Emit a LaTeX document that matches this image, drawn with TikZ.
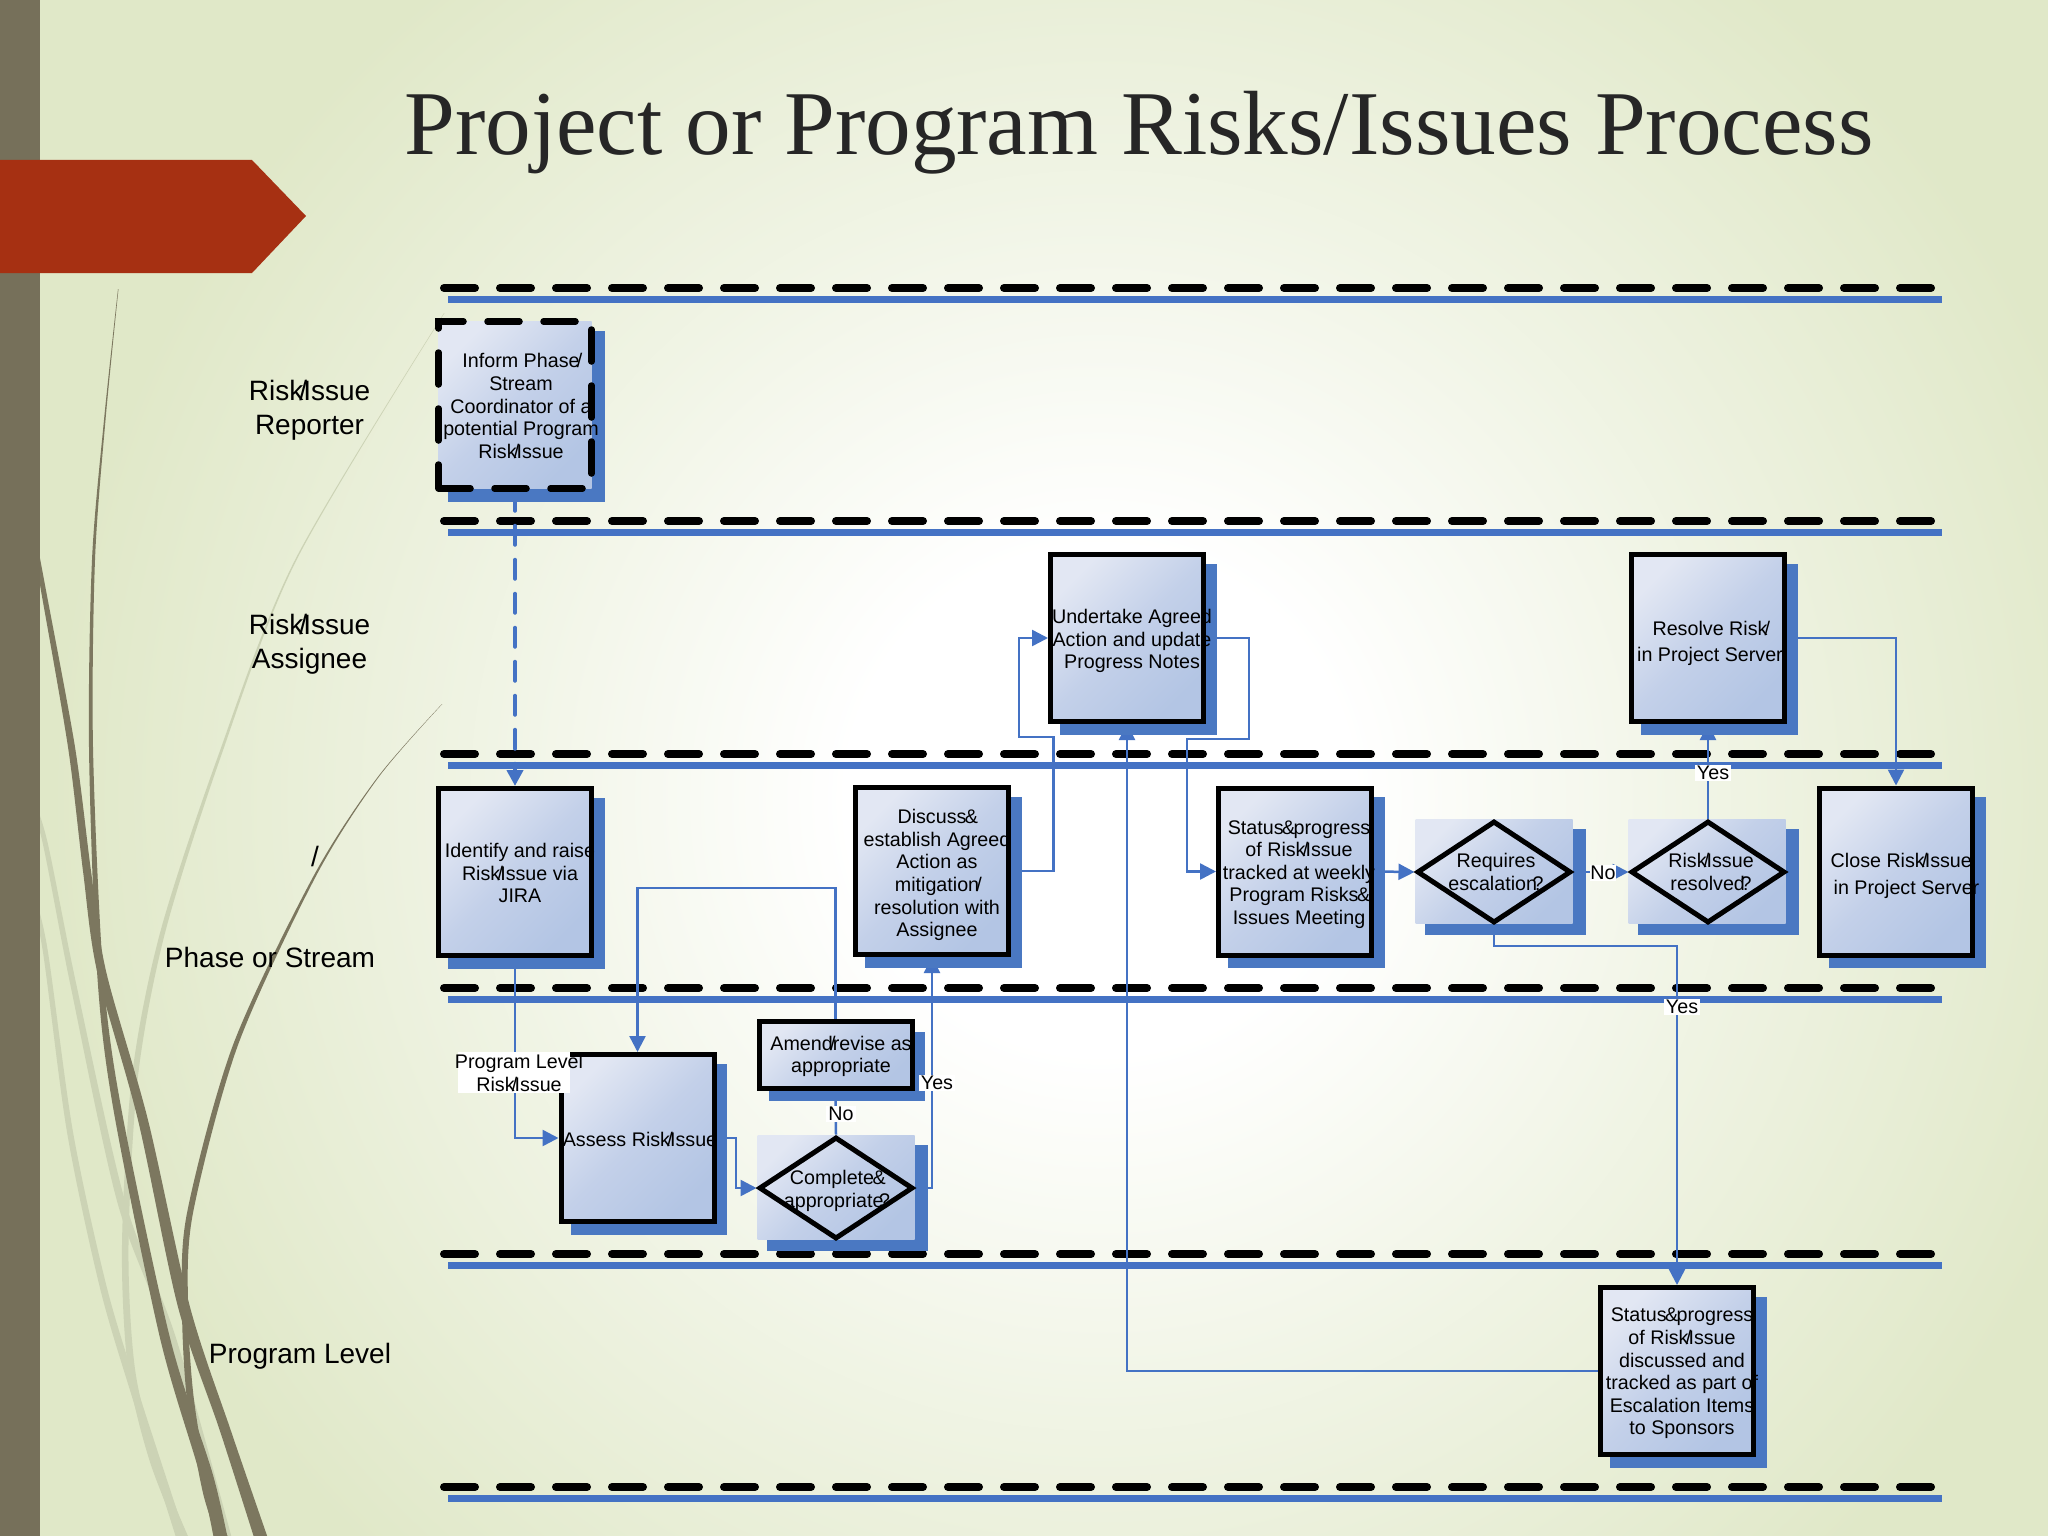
\documentclass[tikz,border=0pt]{standalone}
\usepackage{fontspec}
\setmainfont{Liberation Sans}
\newfontfamily\titlefont{Liberation Serif}
\usetikzlibrary{arrows.meta,shapes.geometric,shadows}
\definecolor{bandbrown}{HTML}{76705A}
\definecolor{bladedark}{HTML}{7C775F}
\definecolor{bladelight}{HTML}{CCD3B5}
\definecolor{pagegreen}{HTML}{E0E8C8}
\definecolor{arrowred}{HTML}{A63012}
\definecolor{laneblue}{HTML}{4472C4}
\definecolor{shadowblue}{HTML}{4A78C2}
\definecolor{boxlight}{HTML}{E2E7F3}
\definecolor{boxmiddle}{HTML}{C3D0E9}
\definecolor{boxdark}{HTML}{B3C5E4}
\pgfdeclareradialshading{pageglow}{\pgfpoint{0bp}{0bp}}{
    color(0bp)=(white); color(6bp)=(white); color(15bp)=(pagegreen!50!white);
    color(25bp)=(pagegreen); color(50bp)=(pagegreen)}
\pgfdeclarelayer{pagelayer}
\pgfdeclarelayer{linklayer}
\pgfsetlayers{pagelayer,linklayer,main}
\tikzset{
    boxshade/.style={top color=boxlight, bottom color=boxdark, middle color=boxmiddle, shading angle=45},
    boxshadow/.style={general shadow={shadow xshift=11pt, shadow yshift=-11pt, shadow scale=1.023, fill=shadowblue}},
    procbox/.style={draw=black, line width=5pt, boxshade, boxshadow, inner sep=0pt,
        minimum width=153pt, minimum height=167pt},
    dashbox/.style={procbox, line cap=round, line width=6.5pt, dash pattern=on 32pt off 24pt},
    decback/.style={boxshade, boxshadow, inner sep=0pt, minimum width=157pt, minimum height=104pt},
    decision/.style={diamond, draw=black, line width=5pt, inner sep=0pt, shape aspect=1.5,
        minimum width=154pt, minimum height=102pt},
    boxtext/.style={font=\fontsize{19.7}{22.6}\selectfont, align=center, inner sep=0pt},
    linklabel/.style={boxtext, fill=white, inner xsep=2pt, inner ysep=1pt},
    lanetext/.style={font=\fontsize{28}{34}\selectfont, align=center, inner sep=0pt},
    link/.style={draw=laneblue, line width=2.5pt, -{Triangle[length=16pt,width=16pt]}},
    plainlink/.style={draw=laneblue, line width=2.5pt},
    dashlink/.style={link, line width=4pt, line cap=round, dash pattern=on 19pt off 15pt},
    lanedash/.style={line width=8pt, line cap=round, dash pattern=on 31pt off 25pt},
    laneline/.style={draw=laneblue, line width=7pt},
}
\newcommand{\tightslash}{\kern-.14em/\kern-.14em}
\newcommand{\riskissue}{Risk\tightslash Issue}
\newcommand{\tightamp}{\kern-.08em\&\kern-.08em}
\newcommand{\tightq}{\kern-.22em?}
\begin{document}
\begin{tikzpicture}[x=1pt,y=-1pt]
\useasboundingbox (0,0) rectangle (2048,1536);

\begin{pgfonlayer}{pagelayer}
% Page background with a pale glow in the middle
\fill[pagegreen] (0,0) rectangle (2048,1536);
\begin{scope}
    \clip (0,0) rectangle (2048,1536);
    \shade[shading=pageglow] (1100,800) ellipse (1050 and 1050);
\end{scope}

% Grass blades, the pale ones first
\fill[bladelight] plot[smooth] coordinates {(444,313) (295,560) (217,759) (160,933) (132,1076) (122,1245) (128,1369) (150,1462) (185,1550)}
    -- plot[smooth] coordinates {(194,1550) (158,1462) (135,1369) (128.5,1245) (138,1076) (165,933) (220,759) (296.5,560) (444.5,313)} -- cycle;
\fill[bladelight] plot[smooth] coordinates {(25,790) (42,840) (70,983) (117,1201) (167,1338) (225,1550)}
    -- plot[smooth] coordinates {(235,1550) (176,1338) (125,1201) (76,983) (47,840) (30,790)} -- cycle;
\fill[bladelight] plot[smooth] coordinates {(25,880) (42,946) (67,1132) (100,1288) (133,1400) (180,1550)}
    -- plot[smooth] coordinates {(190,1550) (141,1400) (107,1288) (73,1132) (47,946) (30,880)} -- cycle;
\fill[bladedark] plot[smooth] coordinates {(118,289) (104,420) (92,560) (89,747) (97,971) (113,1107) (160,1338) (200,1475) (216,1550)}
    -- plot[smooth] coordinates {(230,1550) (213,1475) (170,1338) (121,1107) (103,971) (93,747) (95,560) (105.5,420) (118.5,289)} -- cycle;
\fill[bladedark] plot[smooth] coordinates {(25,500) (40,585) (68,747) (83,871) (97,971) (138,1120) (178,1307) (220,1431) (258,1550)}
    -- plot[smooth] coordinates {(272,1550) (231,1431) (190,1307) (148,1120) (106,971) (91,871) (75,747) (45,585) (29,500)} -- cycle;
\fill[bladedark] plot[smooth] coordinates {(442,704) (377,778) (313,877) (233,1045) (187,1213) (182,1307) (187,1400) (203,1493) (222,1550)}
    -- plot[smooth] coordinates {(234,1550) (211,1493) (194,1400) (188,1307) (193,1213) (238,1045) (315.5,877) (378,778) (442.3,704)} -- cycle;

% Left band and red arrow
\fill[bandbrown] (0,0) rectangle (40,1536);
\fill[arrowred] (0,160) -- (252,160) -- (306,216) -- (252,273) -- (0,273) -- cycle;

% Title
\node[font=\fontsize{91.2}{96}\selectfont\titlefont, text=black!85, anchor=base, inner sep=0pt] (title) at (1139,155) {Project or Program Risks/Issues Process};

% Swim lanes, a dashed line with a blue line under it
\foreach \y in {288,521,754,988,1254,1487} {
    \draw[lanedash] (444,\y) -- (1931,\y);
    \draw[laneline] (448,\y+11) -- (1942,\y+11);
}
\end{pgfonlayer}

% Boxes of the process
\node[dashbox] (inform) at (515,405) {};
\node[procbox] (identify) at (515,872) {};
\node[procbox] (discuss) at (932,871) {};
\node[procbox] (undertake) at (1127,638) {};
\node[procbox] (resolve) at (1708,638) {};
\node[procbox] (status) at (1295,871.5) {};
\node[procbox] (close) at (1896,871.5) {};
\node[procbox] (assess) at (637.5,1138) {};
\node[procbox, minimum height=67pt] (amend) at (835.5,1055) {};
\node[procbox, minimum height=167pt] (sponsors) at (1677,1371) {};
\node[decback] (completeback) at (836,1187) {};
\node[decback] (requiresback) at (1494,871) {};
\node[decback] (resolvedback) at (1707,871) {};

% Diamonds over their backgrounds
\node[decision] (complete) at (836,1188) {};
\node[decision] (requires) at (1494,872) {};
\node[decision] (resolved) at (1708,872) {};

% Connectors go under the boxes
\begin{pgfonlayer}{linklayer}
\draw[dashlink] (inform.south) -- (identify.north);
\draw[link] (identify.south) |- (assess.west);
\draw[link] (assess.east) -| (736,1188) -- (complete.west);
\draw[plainlink] (complete.north) -- (amend.south);
\draw[link] (amend.north) |- (637.5,888) -- (assess.north);
\draw[link] (complete.east) -| (discuss.south);
\draw[link] (discuss.east) -| (1053.5,737) -| (1019,638) -- (undertake.west);
\draw[link] (undertake.east) -| (1249,739) -| (1187,871.5) -- (status.west);
\draw[link] (status.east) -- (requires.west);
\draw[link] (requires.east) -- (resolved.west);
\draw[link] (resolved.north) -- (resolve.south);
\draw[link] (resolve.east) -| (close.north);
\draw[link] (requires.south) |- (1677,946) -- (sponsors.north);
\draw[link] (sponsors.west) -| (undertake.south);
\end{pgfonlayer}

% Texts of the boxes
\node[boxtext] (informtext) at (521,406) {Inform Phase\tightslash\\Stream\\Coordinator of a\\potential Program\\\riskissue};
\node[boxtext] (identifytext) at (520,873) {Identify and raise\\\riskissue{} via\\JIRA};
\node[boxtext] (discusstext) at (937,875) {Discuss\tightamp\\establish Agreed\\Action as\\mitigation\tightslash\\resolution with\\Assignee};
\node[boxtext] (undertaketext) at (1132,641) {Undertake Agreed\\Action and update\\Progress Notes};
\node[boxtext] (resolvetext) at (1710,643.5) {Resolve Risk\tightslash\\[4pt]in Project Server};
\node[boxtext] (statustext) at (1299,874.5) {Status\tightamp progress\\of \riskissue\\tracked at weekly\\Program Risks\tightamp\\Issues Meeting};
\node[boxtext, align=left] (closetext) at (1905,876) {Close \riskissue\\[5pt]\hspace{3pt}in Project Server};
\node[boxtext] (assesstext) at (640,1139) {Assess \riskissue};
\node[boxtext] (amendtext) at (841,1056.5) {Amend\tightslash revise as\\appropriate};
\node[boxtext] (sponsorstext) at (1682,1373.5) {Status\tightamp progress\\of \riskissue\\discussed and\\tracked as part of\\Escalation Items\\to Sponsors};
\node[boxtext] (completetext) at (837,1191) {Complete\tightamp\\appropriate\tightq};
\node[boxtext] (requirestext) at (1496,872) {Requires\\escalation\tightq};
\node[boxtext] (resolvedtext) at (1711,872) {\riskissue\\resolved\tightq};

% Labels on the connectors
\node[fill=white, minimum width=112pt, minimum height=41pt, inner sep=0pt] (levelback) at (514,1072.5) {};
\node[boxtext] (leveltext) at (519,1073) {Program Level\\\riskissue};
\node[linklabel] (amendno) at (841,1114) {No};
\node[linklabel] (completeyes) at (937,1082.7) {Yes};
\node[linklabel, inner xsep=0pt] (requiresno) at (1603,872.7) {No};
\node[linklabel] (resolvedyes) at (1713,773) {Yes};
\node[linklabel] (requiresyes) at (1682,1006.7) {Yes};

% Names of the lanes
\node[lanetext] (reporter) at (309.5,410) {\riskissue\\Reporter};
\node[lanetext] (assignee) at (309.5,644) {\riskissue\\Assignee};
\node[lanetext] (slash) at (315,856) {/};
\node[lanetext] (phase) at (270,957) {Phase or Stream};
\node[lanetext] (program) at (300,1356) {Program Level};
\end{tikzpicture}
\end{document}
